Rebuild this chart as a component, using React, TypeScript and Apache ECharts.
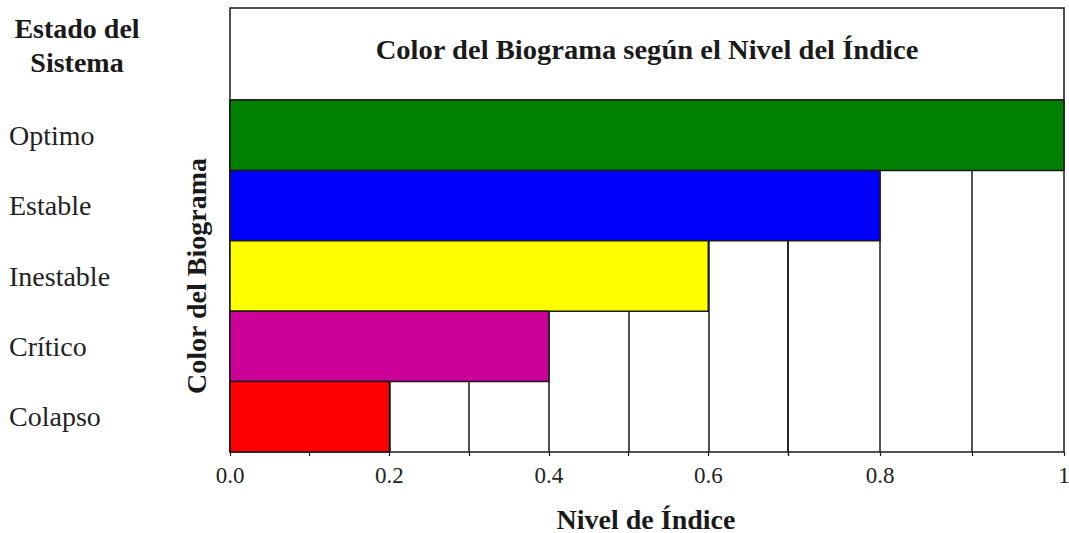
import React, { useEffect, useRef } from "react";
import * as echarts from "echarts";

// Rows from top to bottom
const categories = ["Optimo", "Estable", "Inestable", "Crítico", "Colapso"];
const indexValues = [1.0, 0.8, 0.6, 0.4, 0.2];
const barColors = ["#008000", "#0000FF", "#FFFF00", "#CC0099", "#FF0000"];
const xTickLabels = ["0.0", "0.2", "0.4", "0.6", "0.8", "1"];
// the printed axis is wider per step above this value
const axisBreak = 0.7;

const chartTitle = "Color del Biograma según el Nivel del Índice";
const leftHeader = "Estado del\nSistema";
const yName = "Color del Biograma";
const xName = "Nivel de Índice";

const FONT = '"Liberation Serif", "Times New Roman", serif';
const INK = "#1a1a1a";
const LW = 1.5;

const GRID_TOP = 100;
const GRID_BOTTOM = 452;

const fmt = (v: number) => {
  const k = Math.round(v * 10);
  return k % 2 === 0 ? xTickLabels[k / 2] : "";
};

const renderLeft = (params: any, api: any) => {
  const v = api.value(0);
  const c = api.value(1);
  const end = Math.min(v, axisBreak);
  const a = api.coord([0, c]);
  const b = api.coord([end, c]);
  const h = api.size([0, 1])[1];
  const top = a[1] - h / 2;
  const bot = a[1] + h / 2;
  const pts =
    v <= axisBreak
      ? [[b[0], top], [a[0], top], [a[0], bot], [b[0], bot], [b[0], top]]
      : [[b[0], top], [a[0], top], [a[0], bot], [b[0], bot]];
  return {
    type: "group",
    children: [
      {
        type: "rect",
        shape: { x: a[0], y: top, width: b[0] - a[0], height: h },
        style: { fill: api.visual("color") },
      },
      {
        type: "polyline",
        shape: { points: pts },
        style: { fill: "none", stroke: INK, lineWidth: LW },
      },
    ],
  };
};

const renderRight = (params: any, api: any) => {
  const v = api.value(0);
  if (v <= axisBreak) return null;
  const c = api.value(1);
  const a = api.coord([axisBreak, c]);
  const b = api.coord([v, c]);
  const h = api.size([0, 1])[1];
  const top = a[1] - h / 2;
  const bot = a[1] + h / 2;
  return {
    type: "group",
    children: [
      {
        type: "rect",
        shape: { x: a[0], y: top, width: b[0] - a[0], height: h },
        style: { fill: api.visual("color") },
      },
      {
        type: "polyline",
        shape: { points: [[a[0], top], [b[0], top], [b[0], bot], [a[0], bot]] },
        style: { fill: "none", stroke: INK, lineWidth: LW },
      },
    ],
  };
};

export default function App() {
  const ref = useRef<HTMLDivElement>(null);
  useEffect(() => {
    document.body.style.margin = "0";
    const chart = echarts.init(ref.current!, null, { renderer: "svg" });
    const data = indexValues.map((v, i) => ({
      value: [v, i],
      itemStyle: { color: barColors[i] },
    }));
    const xBase = {
      type: "value" as const,
      interval: 0.1,
      axisLine: { show: true, lineStyle: { color: INK, width: LW } },
      axisTick: { show: true, length: 4, lineStyle: { color: INK, width: 1.2 } },
      splitLine: { show: true, showMinLine: true, showMaxLine: true, lineStyle: { color: INK, width: LW } },
      axisLabel: {
        formatter: fmt,
        showMinLabel: true,
        showMaxLabel: true,
        fontFamily: FONT,
        fontSize: 23,
        color: "#222",
        margin: 12,
      },
    };
    const gridH = GRID_BOTTOM - GRID_TOP;
    chart.setOption({
      animation: false,
      backgroundColor: "#ffffff",
      grid: [
        { left: 230, top: GRID_TOP, width: 558, height: gridH, outerBoundsMode: "none" },
        { left: 788, top: GRID_TOP, width: 276, height: gridH, outerBoundsMode: "none" },
      ],
      xAxis: [
        {
          ...xBase,
          gridIndex: 0,
          min: 0,
          max: axisBreak,
          name: xName,
          nameLocation: "middle",
          nameGap: 55,
          nameMoveOverlap: false,
          nameTextStyle: {
            fontFamily: FONT,
            fontSize: 28,
            lineHeight: 24,
            fontWeight: "bold",
            color: INK,
            padding: [0, 0, 0, 274],
          },
        },
        { ...xBase, gridIndex: 1, min: axisBreak, max: 1 },
      ],
      yAxis: [
        {
          type: "category",
          data: categories,
          inverse: true,
          gridIndex: 0,
          axisTick: { show: false },
          splitLine: { show: false },
          axisLine: { show: true, lineStyle: { color: INK, width: LW } },
          axisLabel: {
            align: "left",
            margin: 221,
            fontFamily: FONT,
            fontSize: 28,
            color: "#222",
          },
          name: yName,
          nameLocation: "middle",
          nameRotate: 90,
          nameGap: 20,
          nameMoveOverlap: false,
          nameTextStyle: { fontFamily: FONT, fontSize: 28, fontWeight: "bold", color: INK },
        },
        {
          type: "category",
          data: categories,
          inverse: true,
          gridIndex: 1,
          axisTick: { show: false },
          splitLine: { show: false },
          axisLine: { show: false },
          axisLabel: { show: false },
        },
      ],
      series: [
        {
          type: "custom",
          xAxisIndex: 0,
          yAxisIndex: 0,
          encode: { x: 0, y: 1 },
          data,
          renderItem: renderLeft,
        },
        {
          type: "custom",
          xAxisIndex: 1,
          yAxisIndex: 1,
          encode: { x: 0, y: 1 },
          data,
          renderItem: renderRight,
        },
      ],
      graphic: [
        {
          type: "rect",
          z: 0,
          shape: { x: 230, y: 8, width: 834, height: GRID_TOP - 8 },
          style: { fill: "#ffffff", stroke: INK, lineWidth: LW },
        },
        {
          type: "text",
          z: 10,
          x: 647,
          y: 50,
          scaleX: 1.02,
          style: {
            text: chartTitle,
            align: "center",
            verticalAlign: "middle",
            font: `bold 28px ${FONT}`,
            fill: INK,
          },
        },
        {
          type: "text",
          z: 10,
          x: 77,
          y: 45,
          style: {
            text: leftHeader,
            align: "center",
            verticalAlign: "middle",
            font: `bold 28px ${FONT}`,
            lineHeight: 34,
            fill: INK,
          },
        },
      ],
    });
    return () => chart.dispose();
  }, []);
  return (
    <div
      ref={ref}
      style={{ position: "absolute", left: 0, top: 0, width: 1069, height: 533 }}
    />
  );
}
